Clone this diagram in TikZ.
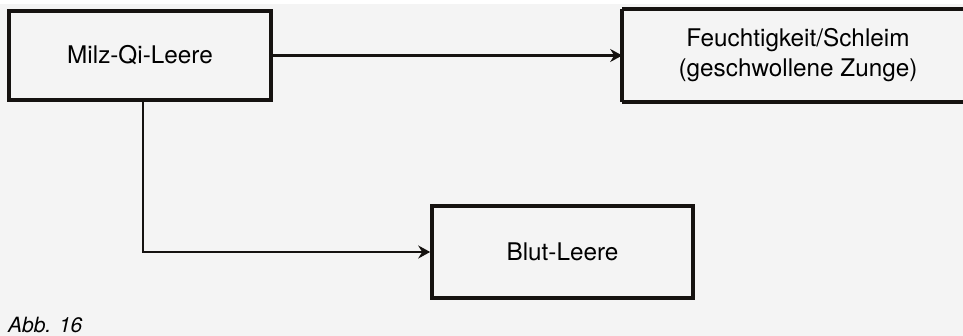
\documentclass[tikz,border=0pt]{standalone}
\usepackage{fontspec}
\setmainfont{TeX Gyre Heros}
\usetikzlibrary{arrows.meta}
\definecolor{paper}{gray}{0.955}
\definecolor{ink}{HTML}{151210}
\tikzset{
  box/.style={draw=ink, line width=3.6pt, fill=paper, inner sep=0pt, align=center,
    font=\fontsize{24.3}{30}\selectfont, text=black},
  frame/.style={draw=ink, line width=3.6pt},
  conn/.style={draw=ink, line width=2.8pt, -{Stealth[length=12pt,width=13pt,inset=4pt]}}
}
\begin{document}
\begin{tikzpicture}[x=1pt,y=-1pt]
\useasboundingbox (0,0) rectangle (963,336);
\begin{scope}
\clip (0,0) rectangle (963,336);
\fill[paper] (0,0) rectangle (963,336);
\fill[white] (0,0) rectangle (963,4);
\node[box, minimum width=262pt, minimum height=89pt] (milz) at (140,55.5) {Milz-Qi-Leere};
\node[box, draw=none, fill=none, minimum width=348pt, minimum height=89pt] (feucht) at (798,55.5) {Feuchtigkeit/Schleim\\(geschwollene Zunge)};
\draw[frame] (feucht.north west) -- ([xshift=60pt]feucht.north east)
  (feucht.south west) -- ([xshift=60pt]feucht.south east)
  (feucht.north west) -- (feucht.south west);
\node[box, minimum width=261pt, minimum height=92pt] (blut) at (562.5,252) {Blut-Leere};
\draw[conn] (milz.east) -- (feucht.west);
\draw[conn] ([xshift=3pt]milz.south) |- (blut.west);
\node[anchor=base west, inner sep=0pt, font=\fontsize{21}{24}\selectfont\itshape] (abb) at (8,332) {Abb. 16};
\end{scope}
\end{tikzpicture}
\end{document}
